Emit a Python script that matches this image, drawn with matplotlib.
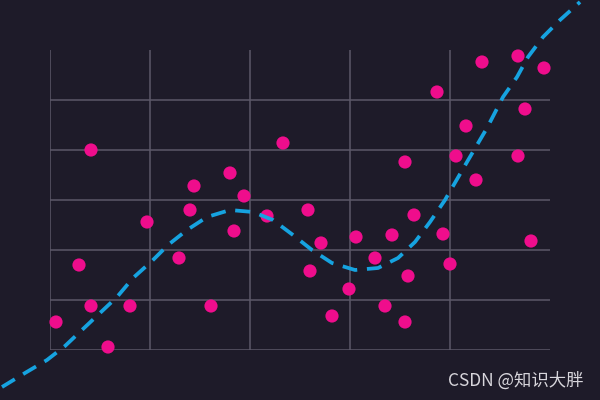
import matplotlib.pyplot as plt

# scatter points
pts_x = [0.06, 0.29, 0.41, 0.41, 0.58, 0.80, 0.97, 1.29, 1.40, 1.44,
         1.61, 1.80, 1.84, 1.94, 2.17, 2.33, 2.58, 2.60, 2.71, 2.82,
         2.99, 3.06, 3.25, 3.35, 3.42, 3.55, 3.55, 3.58, 3.64, 3.87,
         3.93, 4.00, 4.06, 4.16, 4.26, 4.32, 4.68, 4.68, 4.75, 4.81, 4.94]
pts_y = [0.56, 1.70, 4.00, 0.88, 0.06, 0.88, 2.56, 1.84, 2.80, 3.28,
         0.88, 3.54, 2.38, 3.08, 2.68, 4.14, 2.80, 1.58, 2.14, 0.68,
         1.22, 2.26, 1.84, 0.88, 2.30, 3.76, 0.56, 1.48, 2.70, 5.16,
         2.32, 1.72, 3.88, 4.48, 3.40, 5.76, 5.88, 3.88, 4.82, 2.18, 5.64]

# dashed trend curve
line_x = [-0.48, -0.25, -0.03, 0.15, 0.33, 0.50, 0.67, 0.83, 1.02, 1.18,
          1.37, 1.57, 1.80, 2.03, 2.23, 2.43, 2.62, 2.82, 3.05, 3.28,
          3.48, 3.65, 3.80, 3.95, 4.17, 4.37, 4.53, 4.67, 4.78, 4.93,
          5.10, 5.30]
line_y = [-0.74, -0.46, -0.20, 0.08, 0.42, 0.74, 1.06, 1.44, 1.78, 2.10,
          2.40, 2.66, 2.80, 2.76, 2.60, 2.30, 2.00, 1.74, 1.60, 1.64,
          1.84, 2.16, 2.56, 3.00, 3.76, 4.44, 5.06, 5.46, 5.86, 6.26,
          6.60, 6.96]

xticks = [0, 1, 2, 3, 4]
yticks = [0, 1, 2, 3, 4, 5]

bg = '#1e1b29'

fig = plt.figure(figsize=(6, 4), dpi=100, facecolor=bg)
ax = fig.add_axes([50/600, 50/400, 500/600, 300/400], facecolor=bg)

ax.set_xlim(0, 5)
ax.set_ylim(0, 6)
ax.set_xticks(xticks)
ax.set_yticks(yticks)
ax.tick_params(length=0, labelbottom=False, labelleft=False)
for s in ax.spines.values():
    s.set_visible(False)
ax.grid(True, color='#5c5868', linewidth=1.1)
ax.set_axisbelow(True)

ax.scatter(pts_x, pts_y, s=90, color='#ef0d8c', edgecolors='none', zorder=3, clip_on=False)
ax.plot(line_x, line_y, color='#16a3e0', linewidth=2.7, linestyle=(0, (4, 2.6)),
        zorder=4, clip_on=False)

fig.text(583/600, 1 - 381/400, 'CSDN @知识大胖', color='#d8d6dc', fontsize=12.5,
         ha='right', va='center', family=['Noto Sans CJK SC', 'DejaVu Sans'])

fig.savefig('out.png', dpi=100, facecolor=bg)
